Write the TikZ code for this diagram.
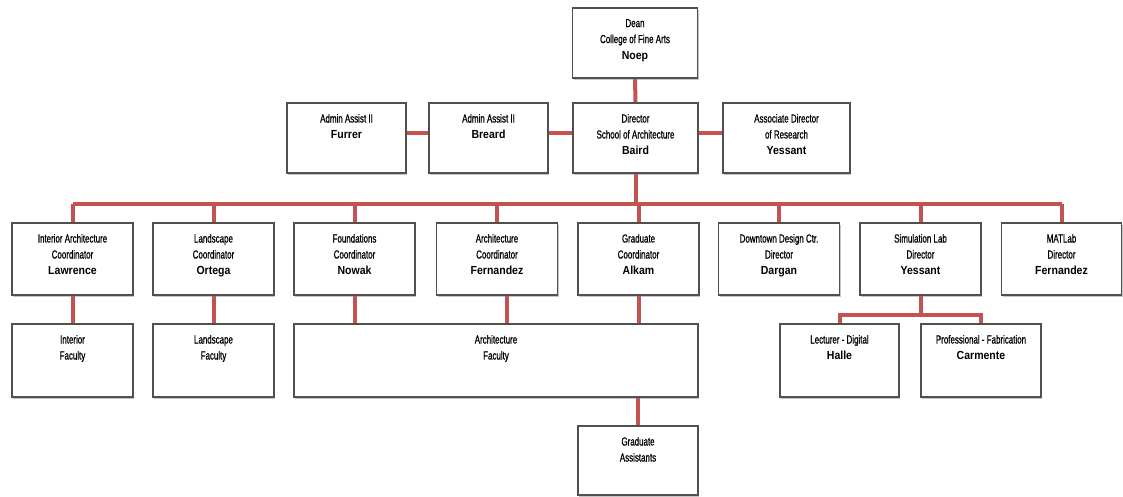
\documentclass[tikz,border=0pt]{standalone}
\usepackage{fontspec}
\setmainfont{Liberation Sans}[FakeStretch=0.68,FakeBold=0.8]
\newfontfamily\nm{Liberation Sans}[FakeStretch=0.9]
\usetikzlibrary{shadows,backgrounds}
\definecolor{boxgray}{RGB}{80,80,80}
\definecolor{linkred}{RGB}{196,82,80}
\tikzset{
  box/.style={draw=boxgray, line width=1.3pt, fill=white, rectangle, inner sep=0pt,
    drop shadow={shadow xshift=1.2pt, shadow yshift=-1.6pt, fill=black!50, opacity=0.45}},
  txt/.style={anchor=north, align=center, inner sep=0pt, font=\fontsize{11.7}{16}\selectfont},
  link/.style={draw=linkred, line width=4pt},
}
\newcommand{\nmb}[1]{{\nm\bfseries #1}}
\begin{document}
\begin{tikzpicture}[x=1pt,y=-1pt]
\useasboundingbox (0,0) rectangle (1123,496);
% top
\node[box, minimum width=125pt, minimum height=70pt] (dean) at (635,43) {};
\node[txt] (deant) at ([yshift=-11.5pt]dean.north) {Dean\\College of Fine Arts\\\nmb{Noep}};
% row 2
\node[box, minimum width=119pt, minimum height=70pt] (adm1) at (346.5,138) {};
\node[txt] (adm1t) at ([yshift=-11.5pt]adm1.north) {Admin Assist II\\\nmb{Furrer}};
\node[box, minimum width=119pt, minimum height=70pt] (adm2) at (488.5,138) {};
\node[txt] (adm2t) at ([yshift=-11.5pt]adm2.north) {Admin Assist II\\\nmb{Breard}};
\node[box, minimum width=125pt, minimum height=70pt] (dir) at (635.5,138) {};
\node[txt] (dirt) at ([yshift=-11.5pt]dir.north) {Director\\School of Architecture\\\nmb{Baird}};
\node[box, minimum width=127pt, minimum height=70pt] (assoc) at (786.5,138) {};
\node[txt] (assoct) at ([yshift=-11.5pt]assoc.north) {Associate Director\\of Research\\\nmb{Yessant}};
% row 3
\node[box, minimum width=121pt, minimum height=72pt] (c1) at (72.5,259) {};
\node[txt] (c1t) at ([yshift=-11.5pt]c1.north) {Interior Architecture\\Coordinator\\\nmb{Lawrence}};
\node[box, minimum width=121pt, minimum height=72pt] (c2) at (213.5,259) {};
\node[txt] (c2t) at ([yshift=-11.5pt]c2.north) {Landscape\\Coordinator\\\nmb{Ortega}};
\node[box, minimum width=121pt, minimum height=72pt] (c3) at (354.5,259) {};
\node[txt] (c3t) at ([yshift=-11.5pt]c3.north) {Foundations\\Coordinator\\\nmb{Nowak}};
\node[box, minimum width=121pt, minimum height=72pt] (c4) at (497,259) {};
\node[txt] (c4t) at ([yshift=-11.5pt]c4.north) {Architecture\\Coordinator\\\nmb{Fernandez}};
\node[box, minimum width=121pt, minimum height=72pt] (c5) at (638.5,259) {};
\node[txt] (c5t) at ([yshift=-11.5pt]c5.north) {Graduate\\Coordinator\\\nmb{Alkam}};
\node[box, minimum width=121pt, minimum height=72pt] (c6) at (779,259) {};
\node[txt] (c6t) at ([yshift=-11.5pt]c6.north) {Downtown Design Ctr.\\Director\\\nmb{Dargan}};
\node[box, minimum width=121pt, minimum height=72pt] (c7) at (920.5,259) {};
\node[txt] (c7t) at ([yshift=-11.5pt]c7.north) {Simulation Lab\\Director\\\nmb{Yessant}};
\node[box, minimum width=120pt, minimum height=72pt] (c8) at (1061.5,259) {};
\node[txt] (c8t) at ([yshift=-11.5pt]c8.north) {MATLab\\Director\\\nmb{Fernandez}};
% row 4
\node[box, minimum width=121pt, minimum height=73pt] (f1) at (72.5,360.5) {};
\node[txt] (f1t) at ([yshift=-11.5pt]f1.north) {Interior\\Faculty};
\node[box, minimum width=121pt, minimum height=73pt] (f2) at (213.5,360.5) {};
\node[txt] (f2t) at ([yshift=-11.5pt]f2.north) {Landscape\\Faculty};
\node[box, minimum width=404pt, minimum height=73pt] (f3) at (496,360.5) {};
\node[txt] (f3t) at ([yshift=-11.5pt]f3.north) {Architecture\\Faculty};
\node[box, minimum width=119pt, minimum height=73pt] (lec) at (839.5,360.5) {};
\node[txt] (lect) at ([yshift=-11.5pt]lec.north) {Lecturer - Digital\\\nmb{Halle}};
\node[box, minimum width=120pt, minimum height=73pt] (pro) at (981,360.5) {};
\node[txt] (prot) at ([yshift=-11.5pt]pro.north) {Professional - Fabrication\\\nmb{Carmente}};
% row 5
\node[box, minimum width=120pt, minimum height=69pt] (ga) at (638,460.5) {};
\node[txt] (gat) at ([yshift=-11.5pt]ga.north) {Graduate\\Assistants};
% connectors
\coordinate (hy) at (0,133);
\coordinate (bus) at (0,204);
\coordinate (sub) at (0,315);
\coordinate (a4) at (507,0);
\begin{pgfonlayer}{background}
\draw[link] (dean.south) -- (dir.north);
\draw[link] (adm1.east |- hy) -- (adm2.west |- hy);
\draw[link] (adm2.east |- hy) -- (dir.west |- hy);
\draw[link] (dir.east |- hy) -- (assoc.west |- hy);
\draw[link] (dir.south) -- (dir.south |- bus);
\draw[link] (c1.north |- bus) -- (c8.north |- bus);
\foreach \n in {c1,c2,c3,c4,c5,c6,c7,c8} {\draw[link] (\n.north) -- (\n.north |- bus);}
\draw[link] (c1.south) -- (f1.north);
\draw[link] (c2.south) -- (f2.north);
\draw[link] (c3.south) -- (c3.south |- f3.north);
\draw[link] (a4 |- c4.south) -- (a4 |- f3.north);
\draw[link] (c5.south) -- (c5.south |- f3.north);
\draw[link] (ga.north |- f3.south) -- (ga.north);
\draw[link] (c7.south) -- (c7.south |- sub);
\draw[link] (lec.north) -- (lec.north |- sub) -- (pro.north |- sub) -- (pro.north);
\end{pgfonlayer}
\end{tikzpicture}
\end{document}
